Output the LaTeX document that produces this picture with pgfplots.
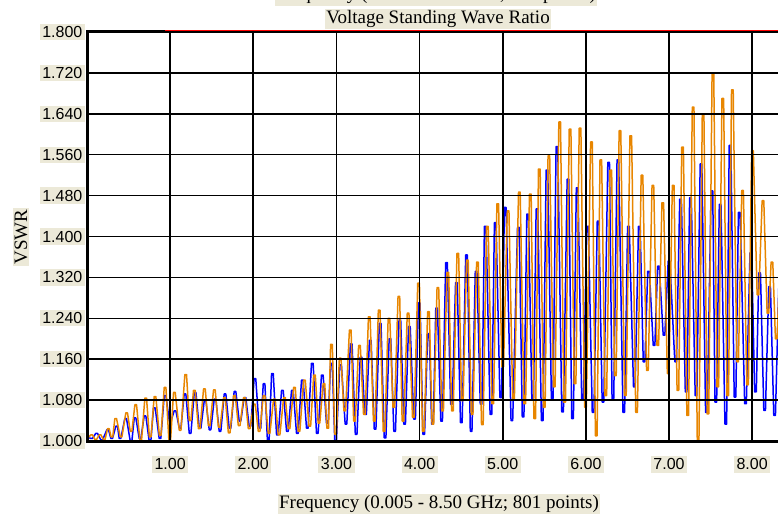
\documentclass[border=0pt]{standalone}
\usepackage{fontspec}
\setmainfont{Liberation Serif}
\newfontfamily\ticksans{Liberation Sans}
\usepackage{pgfplots}
\usepackage{pgfplotstable}
\pgfplotsset{compat=1.18}
\definecolor{beige}{RGB}{236,233,216}
\definecolor{vorange}{RGB}{232,134,0}

\pgfplotstableread{
x y
0.005 1.008
0.046 1.005
0.066 1.005
0.106 1.015
0.126 1.015
0.167 1.002
0.187 1.002
0.239 1.022
0.259 1.022
0.287 1.005
0.307 1.005
0.347 1.029
0.367 1.029
0.387 1.005
0.407 1.005
0.455 1.044
0.475 1.044
0.52 1.000
0.54 1.000
0.568 1.045
0.588 1.045
0.628 1.005
0.648 1.005
0.688 1.049
0.708 1.049
0.748 1.000
0.768 1.000
0.80 1.065
0.82 1.065
0.868 1.005
0.888 1.005
0.929 1.089
0.949 1.089
0.99 1.039
1.01 1.039
1.049 1.059
1.069 1.059
1.11 1.025
1.13 1.025
1.169 1.092
1.189 1.092
1.23 1.015
1.25 1.015
1.29 1.095
1.31 1.095
1.35 1.025
1.37 1.025
1.41 1.079
1.43 1.079
1.47 1.022
1.49 1.022
1.53 1.082
1.55 1.082
1.59 1.019
1.61 1.019
1.65 1.092
1.67 1.092
1.71 1.025
1.73 1.025
1.77 1.097
1.79 1.097
1.83 1.039
1.85 1.039
1.89 1.085
1.91 1.085
1.95 1.029
1.97 1.029
2.01 1.122
2.03 1.122
2.07 1.025
2.09 1.025
2.12 1.112
2.14 1.112
2.17 1.000
2.19 1.000
2.22 1.132
2.24 1.132
2.28 1.012
2.30 1.012
2.34 1.099
2.36 1.099
2.40 1.019
2.42 1.019
2.46 1.099
2.48 1.099
2.52 1.015
2.54 1.015
2.58 1.119
2.60 1.119
2.64 1.025
2.66 1.025
2.70 1.152
2.72 1.152
2.76 1.015
2.78 1.015
2.82 1.129
2.84 1.129
2.88 1.035
2.90 1.035
2.93 1.152
2.95 1.152
2.98 1.000
3.00 1.000
3.04 1.149
3.06 1.149
3.105 1.033
3.125 1.033
3.168 1.190
3.188 1.190
3.227 1.013
3.247 1.013
3.286 1.164
3.306 1.164
3.34 1.052
3.36 1.052
3.397 1.197
3.417 1.197
3.455 1.023
3.475 1.023
3.516 1.230
3.536 1.230
3.575 1.006
3.595 1.006
3.634 1.200
3.654 1.200
3.69 1.019
3.71 1.019
3.753 1.237
3.773 1.237
3.81 1.033
3.83 1.033
3.867 1.224
3.887 1.224
3.93 1.043
3.95 1.043
3.986 1.270
4.006 1.270
4.04 1.013
4.06 1.013
4.097 1.210
4.117 1.210
4.145 1.033
4.165 1.033
4.195 1.260
4.215 1.260
4.255 1.039
4.275 1.039
4.314 1.349
4.334 1.349
4.373 1.072
4.393 1.072
4.433 1.310
4.453 1.310
4.492 1.036
4.512 1.036
4.555 1.364
4.575 1.364
4.61 1.019
4.63 1.019
4.67 1.332
4.69 1.332
4.73 1.072
4.75 1.072
4.78 1.420
4.80 1.420
4.848 1.052
4.868 1.052
4.90 1.427
4.92 1.427
4.966 1.085
4.986 1.085
5.02 1.457
5.04 1.457
5.10 1.040
5.12 1.040
5.178 1.418
5.198 1.418
5.235 1.047
5.255 1.047
5.29 1.444
5.31 1.444
5.35 1.083
5.37 1.083
5.402 1.454
5.422 1.454
5.465 1.040
5.485 1.040
5.522 1.530
5.542 1.530
5.585 1.083
5.605 1.083
5.642 1.576
5.662 1.576
5.71 1.057
5.73 1.057
5.775 1.512
5.795 1.512
5.83 1.044
5.85 1.044
5.885 1.495
5.905 1.495
5.95 1.080
5.97 1.080
6.01 1.420
6.03 1.420
6.077 1.056
6.097 1.056
6.137 1.430
6.157 1.430
6.196 1.076
6.216 1.076
6.264 1.545
6.284 1.545
6.315 1.080
6.335 1.080
6.375 1.550
6.395 1.550
6.446 1.056
6.466 1.056
6.502 1.420
6.522 1.420
6.573 1.106
6.593 1.106
6.633 1.420
6.653 1.420
6.69 1.155
6.71 1.155
6.744 1.332
6.764 1.332
6.81 1.187
6.83 1.187
6.863 1.342
6.883 1.342
6.93 1.207
6.95 1.207
6.99 1.352
7.01 1.352
7.07 1.155
7.09 1.155
7.129 1.473
7.149 1.473
7.196 1.096
7.216 1.096
7.248 1.476
7.268 1.476
7.315 1.089
7.335 1.089
7.375 1.542
7.395 1.542
7.44 1.056
7.46 1.056
7.506 1.489
7.526 1.489
7.553 1.076
7.573 1.076
7.605 1.463
7.625 1.463
7.673 1.033
7.693 1.033
7.724 1.578
7.744 1.578
7.784 1.086
7.804 1.086
7.835 1.447
7.855 1.447
7.91 1.073
7.93 1.073
7.974 1.368
7.994 1.368
8.03 1.096
8.05 1.096
8.08 1.329
8.10 1.329
8.14 1.060
8.16 1.060
8.20 1.302
8.22 1.302
8.26 1.050
8.28 1.050
8.32 1.300
8.34 1.300
}\bluedata

\pgfplotstableread{
x y
0.005 1.005
0.046 1.012
0.066 1.012
0.095 1.003
0.115 1.003
0.147 1.012
0.167 1.012
0.197 1.003
0.217 1.003
0.247 1.024
0.267 1.024
0.29 1.008
0.31 1.008
0.335 1.044
0.355 1.044
0.40 1.008
0.42 1.008
0.467 1.055
0.487 1.055
0.52 1.019
0.54 1.019
0.576 1.071
0.596 1.071
0.636 1.001
0.656 1.001
0.696 1.084
0.716 1.084
0.75 1.008
0.77 1.008
0.808 1.087
0.828 1.087
0.87 1.011
0.89 1.011
0.929 1.105
0.949 1.105
0.985 1.001
1.005 1.001
1.041 1.095
1.061 1.095
1.11 1.021
1.13 1.021
1.177 1.130
1.197 1.130
1.23 1.040
1.25 1.040
1.281 1.099
1.301 1.099
1.34 1.024
1.36 1.024
1.402 1.102
1.422 1.102
1.46 1.030
1.48 1.030
1.522 1.100
1.542 1.100
1.58 1.027
1.60 1.027
1.643 1.085
1.663 1.085
1.70 1.016
1.72 1.016
1.763 1.089
1.783 1.089
1.82 1.030
1.84 1.030
1.883 1.085
1.903 1.085
1.94 1.024
1.96 1.024
2.004 1.072
2.024 1.072
2.06 1.019
2.08 1.019
2.12 1.089
2.14 1.089
2.18 1.015
2.20 1.015
2.244 1.082
2.264 1.082
2.30 1.012
2.32 1.012
2.365 1.085
2.385 1.085
2.42 1.024
2.44 1.024
2.485 1.105
2.505 1.105
2.54 1.019
2.56 1.019
2.605 1.119
2.625 1.119
2.67 1.029
2.69 1.029
2.726 1.129
2.746 1.129
2.78 1.035
2.80 1.035
2.84 1.112
2.86 1.112
2.885 1.025
2.905 1.025
2.93 1.189
2.95 1.189
2.98 1.013
3.00 1.013
3.035 1.162
3.055 1.162
3.09 1.059
3.11 1.059
3.156 1.217
3.176 1.217
3.207 1.039
3.227 1.039
3.267 1.187
3.287 1.187
3.326 1.052
3.346 1.052
3.385 1.243
3.405 1.243
3.445 1.039
3.465 1.039
3.504 1.256
3.524 1.256
3.563 1.019
3.583 1.019
3.622 1.240
3.642 1.240
3.68 1.066
3.70 1.066
3.741 1.283
3.761 1.283
3.79 1.039
3.81 1.039
3.852 1.250
3.872 1.250
3.915 1.046
3.935 1.046
3.978 1.309
3.998 1.309
4.035 1.019
4.055 1.019
4.097 1.253
4.117 1.253
4.15 1.033
4.17 1.033
4.21 1.300
4.23 1.300
4.267 1.059
4.287 1.059
4.33 1.330
4.35 1.330
4.385 1.059
4.405 1.059
4.45 1.367
4.47 1.367
4.504 1.079
4.524 1.079
4.565 1.354
4.585 1.354
4.622 1.052
4.642 1.052
4.686 1.350
4.706 1.350
4.745 1.032
4.765 1.032
4.805 1.420
4.825 1.420
4.87 1.073
4.89 1.073
4.93 1.464
4.95 1.464
4.99 1.145
5.01 1.145
5.055 1.450
5.075 1.450
5.12 1.080
5.14 1.080
5.19 1.487
5.21 1.487
5.255 1.073
5.275 1.073
5.322 1.483
5.342 1.483
5.375 1.044
5.395 1.044
5.43 1.532
5.45 1.532
5.49 1.066
5.51 1.066
5.545 1.558
5.565 1.558
5.61 1.106
5.63 1.106
5.675 1.624
5.695 1.624
5.735 1.076
5.755 1.076
5.80 1.610
5.82 1.610
5.86 1.112
5.88 1.112
5.92 1.612
5.94 1.612
5.985 1.066
6.005 1.066
6.057 1.585
6.077 1.585
6.115 1.010
6.135 1.010
6.17 1.550
6.19 1.550
6.23 1.089
6.25 1.089
6.29 1.530
6.31 1.530
6.345 1.128
6.365 1.128
6.40 1.607
6.42 1.607
6.465 1.089
6.485 1.089
6.53 1.597
6.55 1.597
6.60 1.056
6.62 1.056
6.665 1.520
6.685 1.520
6.73 1.138
6.75 1.138
6.796 1.500
6.816 1.500
6.855 1.187
6.875 1.187
6.915 1.466
6.935 1.466
6.98 1.132
7.00 1.132
7.04 1.500
7.06 1.500
7.097 1.099
7.117 1.099
7.153 1.575
7.173 1.575
7.215 1.050
7.235 1.050
7.28 1.653
7.30 1.653
7.34 1.000
7.36 1.000
7.40 1.637
7.42 1.637
7.458 1.053
7.478 1.053
7.518 1.720
7.538 1.720
7.577 1.106
7.597 1.106
7.637 1.670
7.657 1.670
7.696 1.089
7.716 1.089
7.752 1.687
7.772 1.687
7.815 1.155
7.835 1.155
7.875 1.490
7.895 1.490
7.935 1.110
7.955 1.110
7.994 1.568
8.014 1.568
8.06 1.286
8.08 1.286
8.12 1.470
8.14 1.470
8.18 1.250
8.20 1.250
8.228 1.350
8.248 1.350
8.28 1.200
8.30 1.200
8.33 1.330
8.35 1.330
}\orangedata

\begin{document}
\begin{tikzpicture}[x=1pt,y=1pt]
\useasboundingbox (-87,-73) rectangle (691,441);
\begin{axis}[
  at={(0,0)}, anchor=south west,
  scale only axis, width=694pt, height=409pt,
  xmin=0, xmax=8.347, ymin=1, ymax=1.8,
  xtick={1,2,3,4,5,6,7,8},
  xticklabels={1.00,2.00,3.00,4.00,5.00,6.00,7.00,8.00},
  ytick={1.00,1.08,1.16,1.24,1.32,1.40,1.48,1.56,1.64,1.72,1.80},
  yticklabels={1.000,1.080,1.160,1.240,1.320,1.400,1.480,1.560,1.640,1.720,1.800},
  grid=major,
  major grid style={black, line width=1.6pt},
  axis line style={black, line width=3pt},
  major tick length=0pt,
  axis on top,
  tick label style={font=\ticksans\fontsize{16}{18}\selectfont, fill=beige, inner sep=2.5pt},
  yticklabel style={xshift=-2pt},
  xticklabel style={yshift=-15pt},
]
\addplot[blue, line width=1.5pt, line join=round] table[x=x,y=y] {\bluedata};
\addplot[vorange, line width=1.5pt, line join=round] table[x=x,y=y] {\orangedata};
\end{axis}
\draw[red, line width=1.8pt] (78,410.5) -- (700,410.5);
\node[fill=beige, inner sep=1.5pt, font=\fontsize{19}{21}\selectfont] at (351,422) {Voltage Standing Wave Ratio};
\node[fill=beige, inner sep=1.5pt, anchor=base, font=\fontsize{19}{21}\selectfont] at (349,441) {Frequency (0.005 - 8.50 GHz; 801 points)};
\node[fill=beige, inner sep=1.5pt, font=\fontsize{19}{21}\selectfont] at (352,-63) {Frequency (0.005 - 8.50 GHz; 801 points)};
\node[fill=beige, inner sep=1.5pt, rotate=90, font=\fontsize{19}{21}\selectfont] at (-66,204) {VSWR};
\end{tikzpicture}
\end{document}
